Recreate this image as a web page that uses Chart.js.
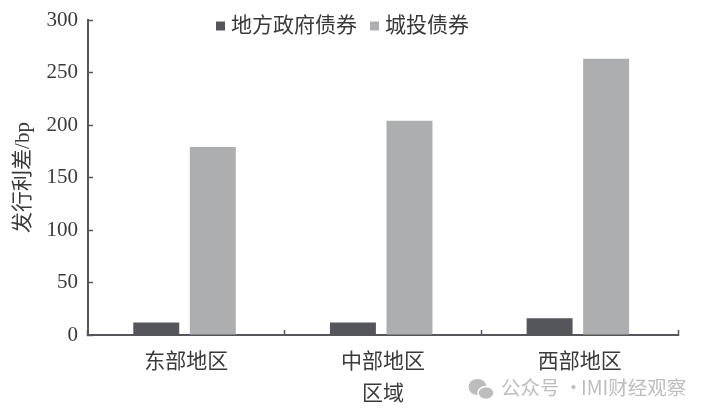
<!DOCTYPE html>
<html>
<head>
<meta charset="utf-8">
<script src="https://cdn.jsdelivr.net/npm/chart.js@4"></script>
<style>
  html, body { margin: 0; padding: 0; background: #fff; }
  canvas { display: block; }
</style>
</head>
<body>
<canvas id="chart" width="708" height="417"></canvas>
<script>
// Issue spreads by region (bp)
const regions = ['东部地区', '中部地区', '西部地区'];
const localGovBonds = [12, 12, 16];
const chengtouBonds = [179, 204, 263];
const seriesNames = ['地方政府债券', '城投债券'];
const yTicks = [0, 50, 100, 150, 200, 250, 300];

const FONT_FAMILY = "'Liberation Serif', 'Noto Sans CJK SC', serif";
const TEXT_COLOR = '#3a3a3a';
const AXIS_COLOR = '#55565a';

// Legend sits over the plot, so it must not take any layout space
const legendPlacer = {
    id: 'legendPlacer',
    beforeLayout(chart) {
        const legend = chart.legend;
        if (legend.fit.patched) return;
        const fit = legend.fit;
        legend.fit = function () {
            fit.call(this);
            this.height = 0;
        };
        legend.fit.patched = true;
    },
    afterLayout(chart) {
        const legend = chart.legend;
        legend.left = 203;
        legend.right = 640;
        legend.top = -2;
        legend.bottom = 40;
    }
};

// The bar groups sit a little left of the category centres in the original
const barNudge = {
    id: 'barNudge',
    afterDatasetsUpdate(chart) {
        chart.data.datasets.forEach((ds, i) => {
            chart.getDatasetMeta(i).data.forEach(bar => { bar.x -= 1.8; });
        });
    }
};

// Watermark in the lower right corner
const watermark = {
    id: 'watermark',
    afterDraw(chart) {
        const ctx = chart.ctx;
        ctx.save();
        ctx.fillStyle = '#bdbdbd';
        ctx.beginPath();
        ctx.ellipse(477.5, 387, 9, 8, 0, 0, Math.PI * 2);
        ctx.fill();
        ctx.strokeStyle = '#fff';
        ctx.lineWidth = 1.5;
        ctx.beginPath();
        ctx.ellipse(486, 393, 8, 6.5, 0, 0, Math.PI * 2);
        ctx.fill();
        ctx.stroke();
        ctx.font = "19.5px 'Noto Sans CJK SC'";
        ctx.textAlign = 'left';
        ctx.textBaseline = 'middle';
        ctx.fillText('公众号 ·', 501, 388);
        ctx.fillText('IMI财经观察', 581, 388);
        ctx.restore();
    }
};

new Chart(document.getElementById('chart'), {
    type: 'bar',
    data: {
        labels: regions,
        datasets: [
            {
                label: seriesNames[0],
                data: localGovBonds,
                backgroundColor: '#55565b',
                categoryPercentage: 0.575,
                barPercentage: 0.813
            },
            {
                label: seriesNames[1],
                data: chengtouBonds,
                backgroundColor: '#adaeb0',
                categoryPercentage: 0.575,
                barPercentage: 0.813
            }
        ]
    },
    options: {
        responsive: false,
        animation: false,
        layout: { padding: { top: 20, right: 30, bottom: 0, left: 1 } },
        plugins: {
            tooltip: { enabled: false },
            legend: {
                position: 'top',
                align: 'start',
                labels: {
                    usePointStyle: true,
                    pointStyle: 'rect',
                    boxWidth: 0.01,
                    boxHeight: 9,
                    padding: 17.5,
                    color: TEXT_COLOR,
                    font: { family: FONT_FAMILY, size: 21 }
                }
            }
        },
        scales: {
            x: {
                afterFit(scale) { scale.height = 82; },
                border: { color: AXIS_COLOR, width: 2 },
                grid: {
                    drawOnChartArea: false,
                    tickLength: -5,
                    tickColor: AXIS_COLOR,
                    tickWidth: 1.5
                },
                ticks: {
                    padding: 20,
                    maxRotation: 0,
                    color: TEXT_COLOR,
                    font: { family: FONT_FAMILY, size: 21 }
                },
                title: {
                    display: true,
                    text: '区域',
                    color: TEXT_COLOR,
                    padding: { top: 0, bottom: 10 },
                    font: { family: FONT_FAMILY, size: 21, weight: 'normal' }
                }
            },
            y: {
                min: 0,
                max: 300,
                afterFit(scale) {
                    scale.width = 87;
                    scale.paddingTop = 0;
                    scale.paddingBottom = 0;
                },
                afterBuildTicks(scale) { scale.ticks = yTicks.map(v => ({ value: v })); },
                border: { color: AXIS_COLOR, width: 2 },
                grid: {
                    drawOnChartArea: false,
                    tickLength: -5,
                    tickColor: AXIS_COLOR,
                    tickWidth: 1.5
                },
                ticks: {
                    padding: 15,
                    color: TEXT_COLOR,
                    font: { family: FONT_FAMILY, size: 21 }
                },
                title: {
                    display: true,
                    text: '发行利差/bp',
                    color: TEXT_COLOR,
                    padding: { top: 10, bottom: 0 },
                    font: { family: FONT_FAMILY, size: 21, weight: 'normal' }
                }
            }
        }
    },
    plugins: [legendPlacer, barNudge, watermark]
});
</script>
</body>
</html>
